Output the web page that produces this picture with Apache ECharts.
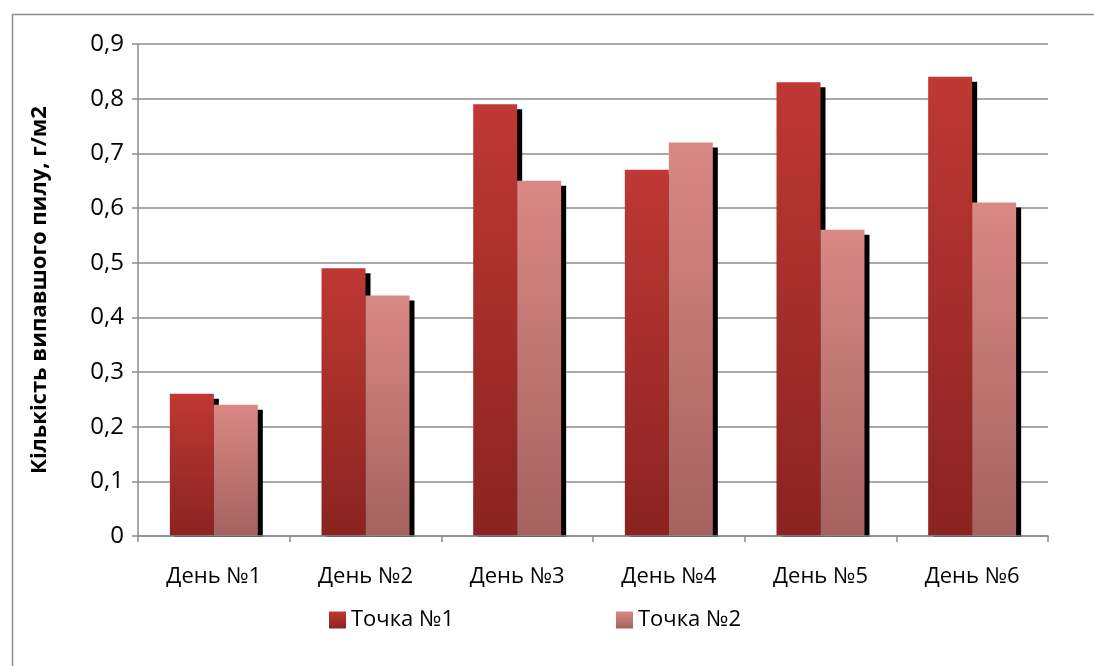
<!DOCTYPE html>
<html style="height: 100%">
<head>
    <meta charset="utf-8">
    <script type="text/javascript" src="https://cdn.jsdelivr.net/npm/echarts@6/dist/echarts.min.js"></script>
</head>
<body style="height: 100%; margin: 0; background: #fff">
<div id="container" style="width: 1094px; height: 666px"></div>
<script type="text/javascript">
    var days = ['День №1', 'День №2', 'День №3', 'День №4', 'День №5', 'День №6'];
    var point1 = [0.26, 0.49, 0.79, 0.67, 0.83, 0.84];
    var point2 = [0.24, 0.44, 0.65, 0.72, 0.56, 0.61];
    var seriesNames = ['Точка №1', 'Точка №2'];

    var font = '"Open Sans", "Noto Sans", sans-serif';
    var gridBottom = 130;

    function grad(top, bottom) {
        return new echarts.graphic.LinearGradient(0, 0, 0, 1, [
            {offset: 0, color: top},
            {offset: 1, color: bottom}
        ]);
    }

    var myChart = echarts.init(document.getElementById('container'));
    var option = {
        animation: false,
        textStyle: {fontFamily: font},
        graphic: [
            // outer chart frame
            {
                type: 'rect',
                left: 10, top: 12,
                shape: {width: 1100, height: 700},
                style: {fill: 'none', stroke: '#8c8c8c', lineWidth: 1.5},
                silent: true
            },
            // hide the part of the bar shadows that falls under the x axis
            {
                type: 'rect',
                z: 3,
                left: 130, top: 666 - gridBottom + 1,
                shape: {width: 930, height: 8},
                style: {fill: '#fff'},
                silent: true
            }
        ],
        grid: {left: 138, right: 46, top: 44, bottom: gridBottom},
        legend: {
            top: 604,
            left: 324,
            itemWidth: 17,
            itemHeight: 17,
            itemGap: 162,
            icon: 'rect',
            textStyle: {fontSize: 22, color: '#000', fontFamily: font},
            data: seriesNames
        },
        xAxis: {
            type: 'category',
            data: days,
            z: 4,
            axisLine: {lineStyle: {color: '#8c8c8c', width: 1.5}},
            axisTick: {show: true, length: 6, lineStyle: {color: '#8c8c8c', width: 1.5}},
            axisLabel: {fontSize: 22, color: '#000', margin: 30, fontFamily: font}
        },
        yAxis: {
            type: 'value',
            min: 0,
            max: 0.9,
            interval: 0.1,
            name: 'Кількість випавшого пилу, г/м2',
            nameLocation: 'middle',
            nameGap: 87,
            nameTextStyle: {fontSize: 22, fontWeight: 'bold', color: '#000', fontFamily: font},
            axisLine: {show: true, lineStyle: {color: '#8c8c8c', width: 1.5}},
            axisTick: {show: true, length: 6, lineStyle: {color: '#8c8c8c', width: 1.5}},
            axisLabel: {
                fontSize: 24, color: '#000', margin: 14, fontFamily: font,
                formatter: function (v) { return String(Math.round(v * 10) / 10).replace('.', ','); }
            },
            splitLine: {lineStyle: {color: '#8c8c8c', width: 1.5}}
        },
        series: [
            {
                name: seriesNames[0],
                type: 'bar',
                data: point1,
                barGap: '0%',
                barCategoryGap: '42%',
                itemStyle: {
                    color: grad('#bf3834', '#8a2321'),
                    shadowColor: '#000',
                    shadowOffsetX: 5,
                    shadowOffsetY: 5,
                    shadowBlur: 0
                }
            },
            {
                name: seriesNames[1],
                type: 'bar',
                data: point2,
                itemStyle: {
                    color: grad('#da8884', '#a5625f'),
                    shadowColor: '#000',
                    shadowOffsetX: 5,
                    shadowOffsetY: 5,
                    shadowBlur: 0
                }
            }
        ]
    };
    myChart.setOption(option);
</script>
</body>
</html>
